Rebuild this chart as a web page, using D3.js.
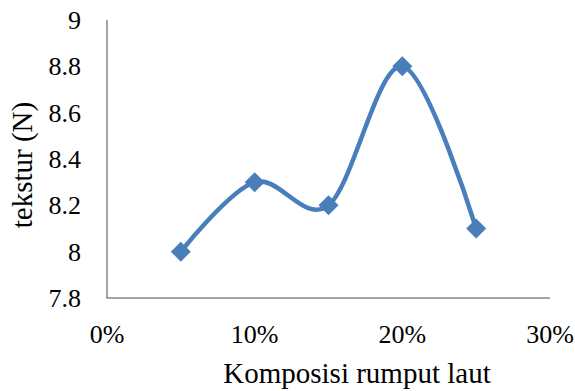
<!DOCTYPE html>
<html>
<head>
<meta charset="utf-8">
<script src="https://cdn.jsdelivr.net/npm/d3@7"></script>
<style>
  body { margin: 0; background: #fff; }
  svg { display: block; }
</style>
</head>
<body>
<div id="chart"></div>
<script>
const komposisi = [0.05, 0.10, 0.15, 0.20, 0.25];
const tekstur = [8.0, 8.3, 8.2, 8.8, 8.1];
const xTicks = [0, 0.1, 0.2, 0.3];
const yTicks = [7.8, 8, 8.2, 8.4, 8.6, 8.8, 9];

const width = 575;
const height = 391;
const plot = { left: 107, right: 550, top: 20, bottom: 298 };
const color = "#4a7ebb";
const axisColor = "#888";
const serif = "'Liberation Serif', 'Times New Roman', serif";

const x = d3.scaleLinear().domain([0, 0.3]).range([plot.left, plot.right]);
const y = d3.scaleLinear().domain([7.8, 9]).range([plot.bottom, plot.top]);

const svg = d3
  .select("#chart")
  .append("svg")
  .attr("width", width)
  .attr("height", height)
  .style("font-family", serif);

// axis lines
svg
  .append("path")
  .attr("fill", "none")
  .attr("stroke", axisColor)
  .attr("stroke-width", 1.5)
  .attr("d", `M${x(0)},${y(9)}V${y(7.8)}H${x(0.3)}`);

// y tick labels
svg
  .append("g")
  .selectAll("text")
  .data(yTicks)
  .join("text")
  .style("font-family", serif)
  .attr("font-size", 26)
  .attr("text-anchor", "end")
  .attr("x", x(0) - 26)
  .attr("y", (d) => y(d))
  .attr("dy", "0.35em")
  .text(d3.format("~g"));

// x tick labels
svg
  .append("g")
  .selectAll("text")
  .data(xTicks)
  .join("text")
  .style("font-family", serif)
  .attr("font-size", 26)
  .attr("text-anchor", "middle")
  .attr("x", (d) => x(d))
  .attr("y", y(7.8) + 45)
  .text(d3.format(".0%"));

// smoothed line
const line = d3
  .line()
  .curve(d3.curveCardinal.tension(0))
  .x((d, i) => x(komposisi[i]))
  .y((d) => y(d));

svg
  .append("path")
  .datum(tekstur)
  .attr("fill", "none")
  .attr("stroke", color)
  .attr("stroke-width", 4.5)
  .attr("stroke-linejoin", "round")
  .attr("d", line);

// diamond markers
svg
  .append("g")
  .selectAll("path")
  .data(tekstur)
  .join("path")
  .attr("fill", color)
  .attr("transform", (d, i) => `translate(${x(komposisi[i])},${y(d)})`)
  .attr("d", "M0,-10L10,0L0,10L-10,0Z");

// axis titles
svg
  .append("text")
  .attr("x", 357)
  .attr("y", 383)
  .attr("text-anchor", "middle")
  .attr("font-size", 29)
  .text("Komposisi rumput laut");

svg
  .append("text")
  .attr("transform", "translate(32,165) rotate(-90)")
  .attr("text-anchor", "middle")
  .attr("font-size", 29)
  .text("tekstur (N)");
</script>
</body>
</html>
